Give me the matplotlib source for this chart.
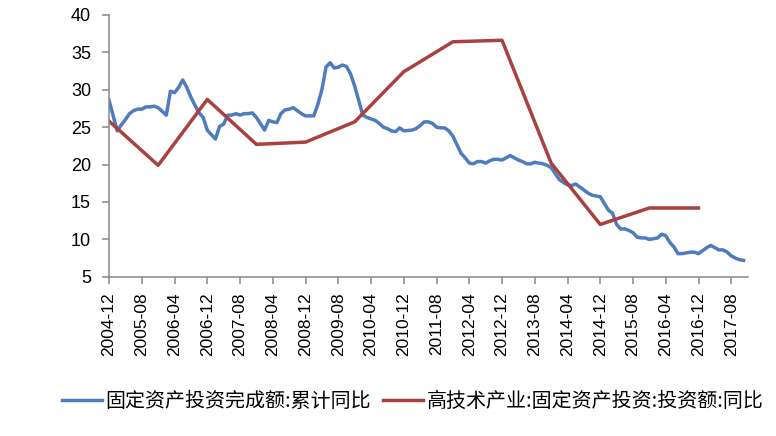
import matplotlib
matplotlib.use("Agg")
import matplotlib.pyplot as plt

# 固定资产投资完成额:累计同比 (monthly, no January value)
fai_months = ["2004-12"] + ["%d-%02d" % (y, m) for y in range(2005, 2018)
                            for m in range(2, 13) if not (y == 2017 and m == 12)]
fai_values = [
    28.6,
    24.5, 25.3, 26.0, 26.8, 27.2, 27.4, 27.4, 27.7, 27.7, 27.8, 27.6,   # 2005
    26.6, 29.8, 29.6, 30.3, 31.3, 30.3, 29.0, 27.9, 26.9, 26.3, 24.6,   # 2006
    23.4, 25.1, 25.4, 26.6, 26.6, 26.8, 26.6, 26.8, 26.8, 26.9, 26.3,   # 2007
    24.6, 25.9, 25.7, 25.6, 26.8, 27.3, 27.4, 27.6, 27.2, 26.8, 26.5,   # 2008
    26.5, 28.0, 30.0, 33.0, 33.6, 32.9, 33.0, 33.3, 33.1, 32.1, 30.5,   # 2009
    26.6, 26.3, 26.1, 25.9, 25.5, 25.0, 24.8, 24.5, 24.4, 24.9, 24.5,   # 2010
    24.6, 24.8, 25.2, 25.7, 25.7, 25.5, 25.0, 24.9, 24.9, 24.5, 23.8,   # 2011
    21.5, 20.9, 20.2, 20.1, 20.4, 20.4, 20.2, 20.5, 20.7, 20.7, 20.6,   # 2012
    21.2, 20.9, 20.6, 20.4, 20.1, 20.1, 20.3, 20.2, 20.1, 19.9, 19.6,   # 2013
    18.0, 17.6, 17.3, 17.2, 17.4, 17.0, 16.6, 16.2, 15.9, 15.8, 15.7,   # 2014
    13.9, 13.5, 12.0, 11.4, 11.4, 11.2, 10.9, 10.3, 10.2, 10.2, 10.0,   # 2015
    10.2, 10.7, 10.5, 9.6, 9.0, 8.1, 8.1, 8.2, 8.3, 8.3, 8.1,           # 2016
    8.9, 9.2, 8.9, 8.6, 8.6, 8.3, 7.8, 7.5, 7.3, 7.2,                   # 2017
]

# 高技术产业:固定资产投资:投资额:同比 (yearly, December)
hitech_months = ["%d-12" % y for y in range(2004, 2017)]
hitech_values = [25.8, 19.9, 28.7, 22.7, 23.0, 25.7, 32.4, 36.4, 36.6, 20.2, 12.0, 14.2, 14.2]

tick_labels = ["%d-%02d" % (2004 + (11 + i) // 12, (11 + i) % 12 + 1) for i in range(0, 156, 8)]

fai_label = "固定资产投资完成额:累计同比"
hitech_label = "高技术产业:固定资产投资:投资额:同比"


def month_index(s):
    y, m = s.split("-")
    return (int(y) - 2004) * 12 + int(m) - 12


def main():
    plt.rcParams['font.family'] = ['Liberation Sans', 'Noto Sans CJK SC', 'DejaVu Sans']
    fig = plt.figure(figsize=(7.76, 4.36), dpi=100)
    ax = fig.add_axes([0.1405, 0.365, 0.824, 0.601])

    x1 = [month_index(s) for s in fai_months]
    x2 = [month_index(s) for s in hitech_months]
    l1, = ax.plot(x1, fai_values, color='#4F7BBF', lw=2.5, label=fai_label,
                  solid_joinstyle='round')
    l2, = ax.plot(x2, hitech_values, color='#A9413F', lw=2.5, label=hitech_label,
                  solid_joinstyle='round')

    ax.set_ylim(5, 40)
    ax.set_yticks(range(5, 41, 5))
    ax.set_xlim(0, 156.2)
    ax.set_xticks([month_index(s) for s in tick_labels])
    ax.set_xticklabels(tick_labels, rotation=90, fontsize=12.5)
    ax.tick_params(axis='y', labelsize=13, length=5, width=1.1, color='#888888', pad=8)
    ax.tick_params(axis='x', length=5, width=1.1, color='#888888', pad=6)

    for side in ['top', 'right']:
        ax.spines[side].set_visible(False)
    for side in ['left', 'bottom']:
        ax.spines[side].set_color('#888888')
        ax.spines[side].set_linewidth(1.1)

    fig.legend(handles=[l1, l2], loc='center', bbox_to_anchor=(0.532, 0.08),
               ncol=2, frameon=False, handlelength=2.0,
               handletextpad=0.2, columnspacing=0.6,
               prop={'family': ['Noto Sans CJK SC', 'DejaVu Sans'], 'size': 14.4})

    fig.savefig("out.png", dpi=100)


if __name__ == '__main__':
    main()
